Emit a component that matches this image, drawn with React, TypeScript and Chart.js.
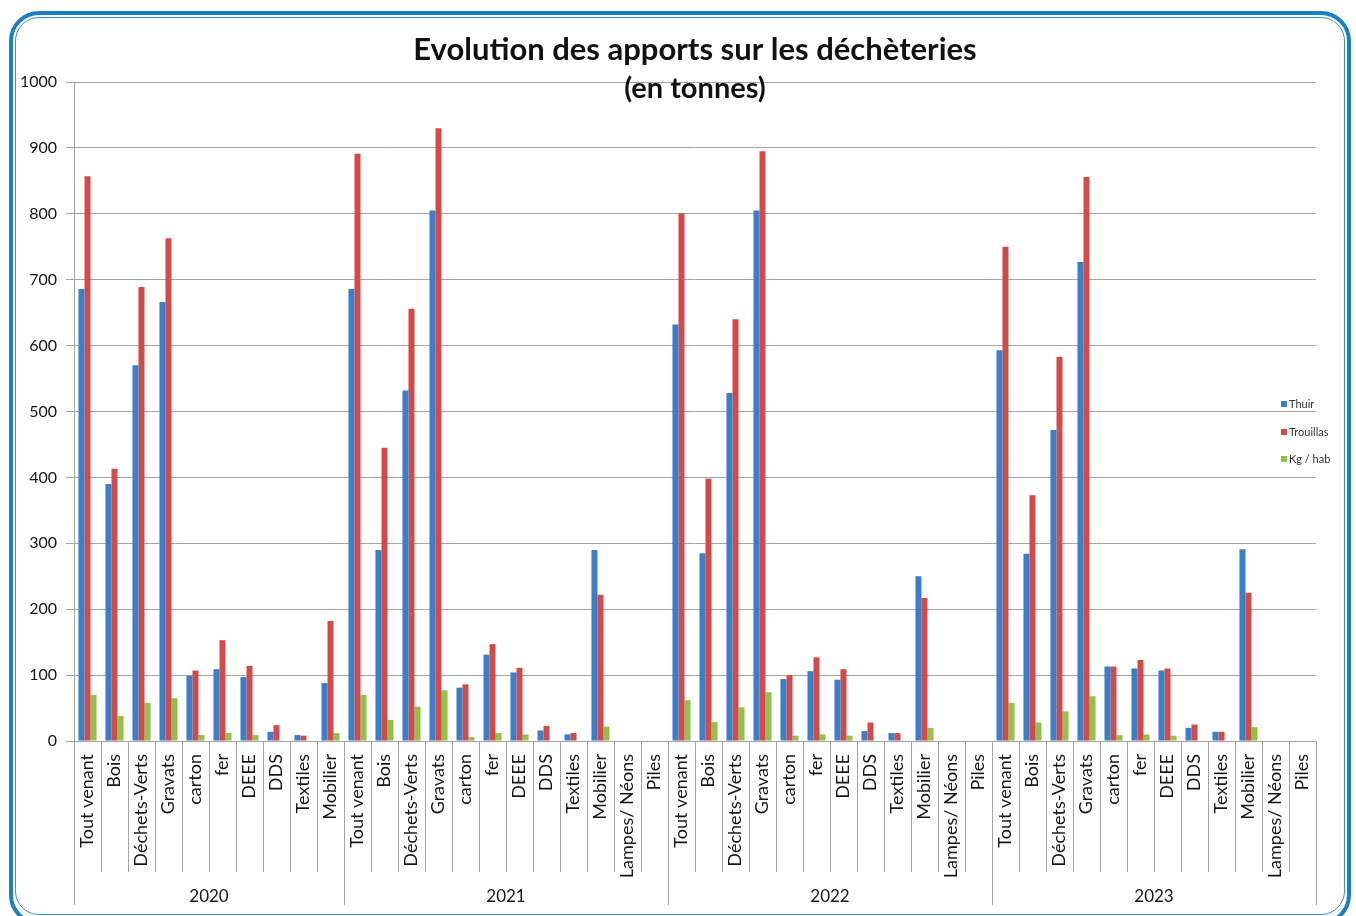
import React, { useEffect, useRef } from "react";
import { Chart, registerables } from "chart.js";

Chart.register(...registerables);

const categories = [
  "Tout venant", "Bois", "Déchets-Verts", "Gravats", "carton", "fer", "DEEE", "DDS", "Textiles", "Mobilier",
  "Tout venant", "Bois", "Déchets-Verts", "Gravats", "carton", "fer", "DEEE", "DDS", "Textiles", "Mobilier", "Lampes/ Néons", "Piles",
  "Tout venant", "Bois", "Déchets-Verts", "Gravats", "carton", "fer", "DEEE", "DDS", "Textiles", "Mobilier", "Lampes/ Néons", "Piles",
  "Tout venant", "Bois", "Déchets-Verts", "Gravats", "carton", "fer", "DEEE", "DDS", "Textiles", "Mobilier", "Lampes/ Néons", "Piles",
];

const yearLabels = ["2020", "2021", "2022", "2023"];
const yearSizes = [10, 12, 12, 12];

const thuir = [
  686, 390, 570, 666, 99, 109, 97, 14, 9, 88,
  686, 290, 532, 805, 81, 131, 104, 16, 10, 290, 0, 0,
  632, 285, 528, 805, 94, 106, 93, 15, 12, 250, 0, 0,
  593, 284, 472, 727, 113, 110, 107, 20, 14, 291, 0, 0,
];

const trouillas = [
  857, 413, 689, 763, 107, 153, 114, 24, 8, 182,
  891, 445, 656, 930, 86, 147, 111, 23, 12, 222, 0, 0,
  801, 398, 640, 895, 100, 127, 109, 28, 12, 217, 0, 0,
  750, 373, 583, 856, 113, 123, 110, 25, 14, 225, 0, 0,
];

const kgHab = [
  70, 38, 58, 65, 9, 12, 9, 0, 0, 12,
  70, 32, 52, 77, 6, 12, 10, 0, 0, 22, 0, 0,
  62, 29, 51, 74, 8, 10, 8, 0, 0, 20, 0, 0,
  58, 28, 45, 68, 9, 10, 8, 0, 0, 21, 0, 0,
];

const seriesNames = ["Thuir", "Trouillas", "Kg / hab"];
const seriesColors = ["#3d7ec6", "#d14b4b", "#92c24a"];

const titleText = "Evolution des apports sur les déchèteries";
const subtitleText = "(en tonnes)";

const yMin = 0;
const yMax = 1000;
const yStep = 100;

const FONT = "Lato, 'Open Sans', sans-serif";
const GRID = "#a3a3a3";
const TEXT = "#161616";

const groupAxisPlugin = {
  id: "groupAxis",
  afterDraw(chart: any) {
    const { ctx, chartArea, scales } = chart;
    const x = scales.x;
    const n = categories.length;
    const step = x.getPixelForValue(1) - x.getPixelForValue(0);
    const bottom = chartArea.bottom;
    const groupStarts: number[] = [];
    let acc = 0;
    for (const s of yearSizes) {
      groupStarts.push(acc);
      acc += s;
    }
    ctx.save();
    ctx.strokeStyle = GRID;
    ctx.lineWidth = 1;
    for (let i = 0; i <= n; i++) {
      const px = i < n ? x.getPixelForValue(i) - step / 2 : x.getPixelForValue(n - 1) + step / 2;
      const isGroup = groupStarts.includes(i) || i === n;
      const xx = Math.round(px) + 0.5;
      ctx.beginPath();
      ctx.moveTo(xx, bottom);
      ctx.lineTo(xx, bottom + (isGroup ? 164 : 131));
      ctx.stroke();
    }
    // year labels
    ctx.fillStyle = TEXT;
    ctx.font = `17px ${FONT}`;
    ctx.textAlign = "center";
    ctx.textBaseline = "middle";
    yearLabels.forEach((label, g) => {
      const start = groupStarts[g];
      const end = start + yearSizes[g] - 1;
      const cx = (x.getPixelForValue(start) + x.getPixelForValue(end)) / 2;
      ctx.fillText(label, cx, bottom + 156);
    });
    // title
    const tx = (chartArea.left + chartArea.right) / 2;
    ctx.fillStyle = "#111";
    ctx.font = `bold 31px ${FONT}`;
    ctx.fillText(titleText, tx, 50);
    ctx.font = `bold 29px ${FONT}`;
    ctx.fillText(subtitleText, tx, 89);
    // legend
    ctx.font = `11px ${FONT}`;
    ctx.textAlign = "left";
    const legendY = [404, 432, 459];
    seriesNames.forEach((name, i) => {
      ctx.fillStyle = seriesColors[i];
      ctx.fillRect(1281, legendY[i] - 3, 6, 6);
      ctx.fillStyle = "#333";
      ctx.fillText(name, 1289, legendY[i]);
    });
    ctx.restore();
  },
};

export default function App() {
  const canvasRef = useRef<HTMLCanvasElement>(null);

  useEffect(() => {
    if (!canvasRef.current) return;
    const chart = new Chart(canvasRef.current, {
      type: "bar",
      data: {
        labels: categories,
        datasets: [thuir, trouillas, kgHab].map((d, i) => ({
          label: seriesNames[i],
          data: d,
          backgroundColor: seriesColors[i],
          borderWidth: 0,
          categoryPercentage: 0.67,
          barPercentage: 1.0,
        })),
      },
      options: {
        animation: false,
        responsive: true,
        maintainAspectRatio: false,
        layout: { padding: { top: 82, right: 40, left: 0, bottom: 0 } },
        plugins: {
          legend: { display: false },
          title: { display: false },
          tooltip: { enabled: false },
        },
        scales: {
          x: {
            grid: { display: false },
            border: { display: true, color: GRID },
            ticks: {
              autoSkip: false,
              maxRotation: 90,
              minRotation: 90,
              padding: 5,
              color: TEXT,
              font: { family: FONT, size: 18 },
            },
            afterFit: (scale: any) => {
              scale.height = 175;
            },
          },
          y: {
            min: yMin,
            max: yMax,
            ticks: {
              stepSize: yStep,
              padding: 9,
              color: TEXT,
              font: { family: FONT, size: 16 },
              callback: (v: any) => String(v),
            },
            grid: { color: GRID, tickLength: 8, lineWidth: 1 },
            border: { display: true, color: GRID },
            afterFit: (scale: any) => {
              scale.width = 74;
            },
          },
        },
      },
      plugins: [groupAxisPlugin],
    });
    return () => chart.destroy();
  }, []);

  return (
    <div style={{ position: "absolute", left: 0, top: 0, width: 1356, height: 916, background: "#fff", overflow: "hidden" }}>
      <div style={{ position: "absolute", left: 0, top: 0, width: 1356, height: 916 }}>
        <canvas ref={canvasRef} />
      </div>
      <div
        style={{
          position: "absolute",
          left: 9,
          top: 11,
          width: 1342,
          height: 914,
          boxSizing: "border-box",
          border: "4px solid #1b7fc0",
          borderRadius: 30,
          pointerEvents: "none",
        }}
      />
      <div
        style={{
          position: "absolute",
          left: 15,
          top: 17,
          width: 1330,
          height: 898,
          boxSizing: "border-box",
          border: "1.5px solid #3b90cf",
          borderRadius: 24,
          pointerEvents: "none",
        }}
      />
    </div>
  );
}
